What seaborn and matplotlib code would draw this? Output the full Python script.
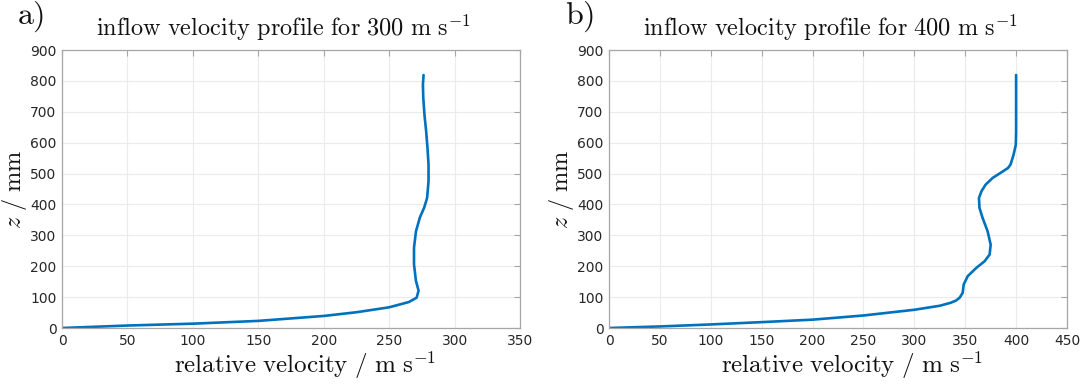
import matplotlib
matplotlib.use("Agg")
import matplotlib.pyplot as plt
import seaborn as sns
import pandas as pd

# Inflow profile, 300 m/s case: relative velocity (m/s) against height z (mm)
z_300 = [0, 4, 8, 14, 23, 39, 51, 67, 84, 98, 121, 152, 206, 260, 313, 358,
         390, 421, 475, 529, 583, 636, 690, 744, 787, 819]
v_300 = [0, 25, 50, 100, 150, 200, 225, 250, 265, 271, 272.5, 270.5, 269, 269,
         270.5, 273.5, 276.8, 279, 280.1, 280.1, 279.3, 278.3, 277, 276.1, 275.8, 276.3]

# Inflow profile, 400 m/s case
z_400 = [0, 5, 11.5, 19, 27, 40.5, 59, 72, 82, 89, 98, 114, 141, 168, 195, 216,
         238, 270, 313, 357, 389, 421, 443, 464, 486, 507, 518, 529, 561, 593,
         636, 744, 819]
v_400 = [0, 50, 100, 150, 200, 250, 300, 325, 336, 341, 344.5, 347.5, 348.5,
         352.5, 361, 369, 374, 375, 372, 367, 364, 363.5, 366, 370, 377, 387,
         392, 394.5, 397.5, 399.7, 400, 400, 400]

panels = ["a)", "b)"]
titles = [r"$\mathrm{inflow\ velocity\ profile\ for\ 300\ m\ s^{-1}}$",
          r"$\mathrm{inflow\ velocity\ profile\ for\ 400\ m\ s^{-1}}$"]
x_limits = [350, 450]
y_ticks = list(range(0, 901, 100))

sns.set_style("white")
plt.rcParams["mathtext.fontset"] = "cm"
plt.rcParams["font.family"] = ["DejaVu Sans"]

line_color = "#0072BD"
frame_color = "#a6a6a6"
grid_color = "#ebebeb"
text_color = "#262626"

fig = plt.figure(figsize=(10.87, 3.85), dpi=100)
ax_a = fig.add_axes([62 / 1087, 57 / 385, 458 / 1087, 278 / 385])
ax_b = fig.add_axes([609 / 1087, 57 / 385, 458 / 1087, 278 / 385])

profiles = [(v_300, z_300), (v_400, z_400)]

for ax, (v, z), title, xmax, tag in zip([ax_a, ax_b], profiles, titles, x_limits, panels):
    df = pd.DataFrame({"velocity": v, "z": z})
    sns.lineplot(data=df, x="velocity", y="z", sort=False, estimator=None,
                 color=line_color, linewidth=1.9, ax=ax)
    ax.set_xlim(0, xmax)
    ax.set_ylim(0, 900)
    ax.set_xticks(list(range(0, xmax + 1, 50)))
    ax.set_yticks(y_ticks)
    ax.grid(True, color=grid_color, linewidth=0.8)
    ax.set_axisbelow(True)
    for s in ax.spines.values():
        s.set_visible(True)
        s.set_color(frame_color)
        s.set_linewidth(0.9)
    ax.tick_params(direction="in", length=4, width=0.8, color=frame_color,
                   labelsize=10, labelcolor=text_color, top=True, right=True,
                   pad=4)
    ax.set_title(title, fontsize=17.5, color="#111111", pad=10, x=0.483)
    ax.set_xlabel(r"$\mathrm{relative\ velocity\ /\ m\ s^{-1}}$", fontsize=18,
                  color="#111111")
    ax.xaxis.set_label_coords(0.53, -0.075, transform=ax.transAxes)
    ax.xaxis.label.set_va("top")
    ax.set_ylabel(r"$z\ /\ \mathrm{mm}$", fontsize=17.5, color="#111111")
    ax.yaxis.set_label_coords(-0.103, 0.5, transform=ax.transAxes)
    ax.yaxis.label.set_va("center")

fig.text(17 / 1087, 1 - 17 / 385, r"$\mathrm{a)}$", fontsize=23, color="#111111",
         ha="left", va="center")
fig.text(565 / 1087, 1 - 17 / 385, r"$\mathrm{b)}$", fontsize=23, color="#111111",
         ha="left", va="center")

fig.savefig("out.png", dpi=100)
